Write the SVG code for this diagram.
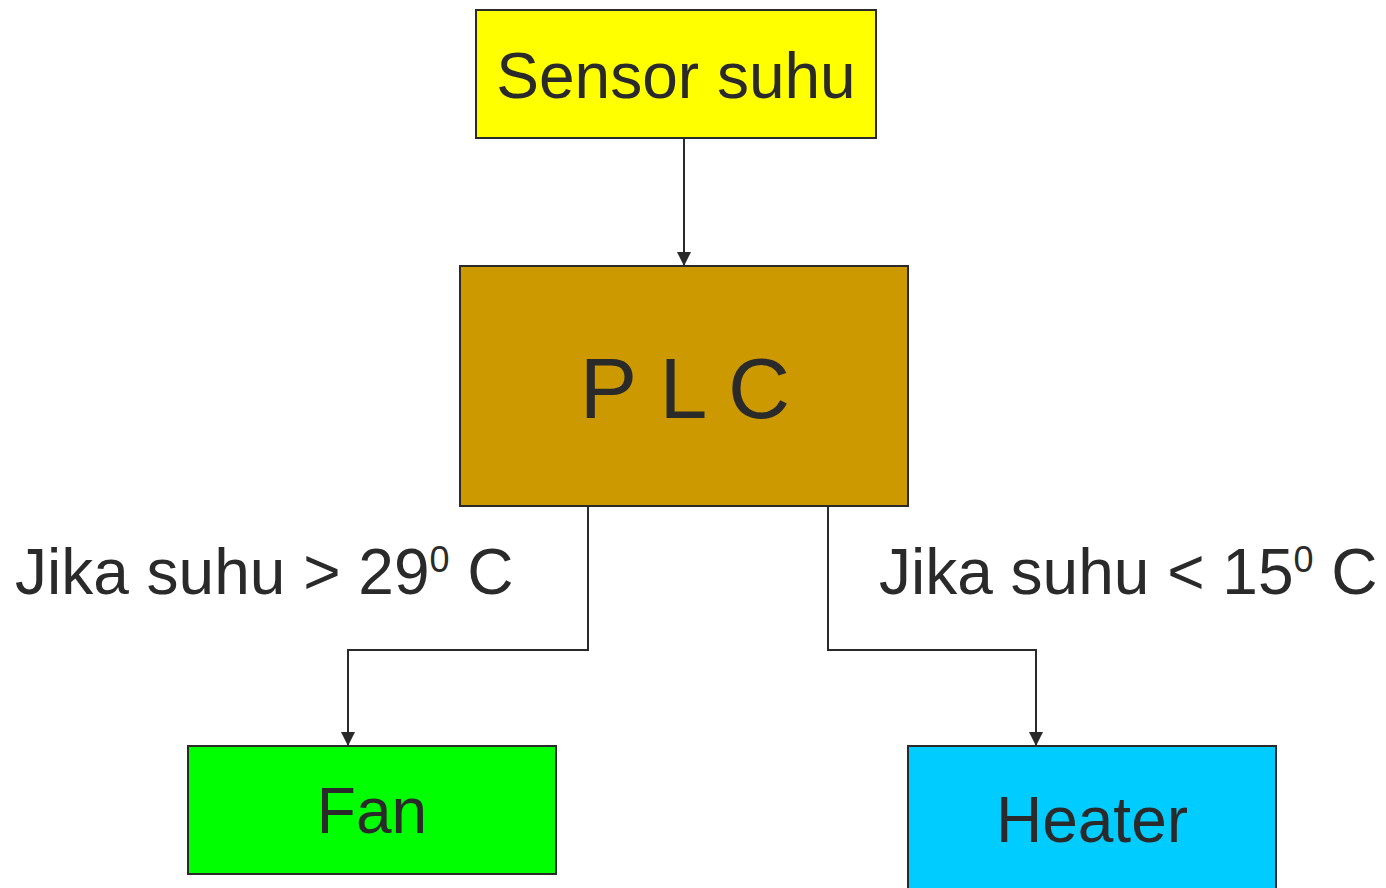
<svg xmlns="http://www.w3.org/2000/svg" width="1386" height="888" viewBox="0 0 1386 888">
<style>
.box{stroke:#2a2a2a;stroke-width:2}
.t{font-family:"Liberation Sans",Arial,sans-serif;fill:#2a2a2a}
.c{fill:none;stroke:#2a2a2a;stroke-width:2}
</style>
<defs>
<marker id="arr" markerWidth="14" markerHeight="14" refX="14" refY="7" orient="auto" markerUnits="userSpaceOnUse" viewBox="0 0 14 14">
<path d="M0,0 L14,7 L0,14 Z" fill="#2a2a2a"/>
</marker>
</defs>
<rect width="1386" height="888" fill="#ffffff"/>
<g id="connectors">
<path class="c" d="M684,138 V266" marker-end="url(#arr)"/>
<path class="c" d="M588,506 V650 H348 V746" marker-end="url(#arr)"/>
<path class="c" d="M828,506 V650 H1036 V746" marker-end="url(#arr)"/>
</g>
<g id="sensor">
<rect class="box" x="476" y="10" width="400" height="128" fill="#ffff00"/>
<text class="t" x="676" y="98" font-size="64" text-anchor="middle">Sensor suhu</text>
</g>
<g id="plc">
<rect class="box" x="460" y="266" width="448" height="240" fill="#cc9900"/>
<text class="t" x="685" y="418" font-size="86" text-anchor="middle">P L C</text>
</g>
<g id="fan">
<rect class="box" x="188" y="746" width="368" height="128" fill="#00ff00"/>
<text class="t" x="372" y="833" font-size="64" text-anchor="middle">Fan</text>
</g>
<g id="heater">
<rect class="box" x="908" y="746" width="368" height="150" fill="#00ccff"/>
<text class="t" x="1092" y="842" font-size="64" text-anchor="middle">Heater</text>
</g>
<g id="labels">
<text class="t" x="15" y="594" font-size="64">Jika suhu &gt; 29<tspan font-size="36" dy="-22">0</tspan><tspan dy="22"> C</tspan></text>
<text class="t" x="879" y="594" font-size="64">Jika suhu &lt; 15<tspan font-size="36" dy="-22">0</tspan><tspan dy="22"> C</tspan></text>
</g>
</svg>
